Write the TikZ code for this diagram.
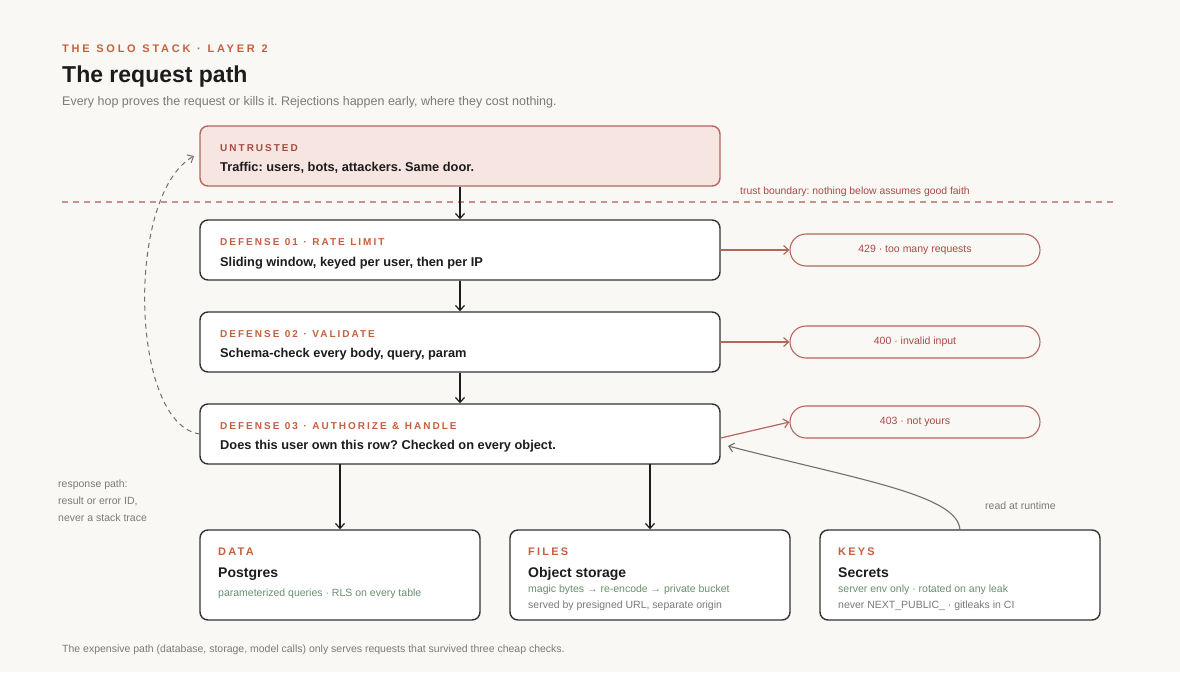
\documentclass[tikz,border=0pt]{standalone}
\usepackage{fontspec}
\setmainfont{Liberation Sans}
\newfontfamily\spc[LetterSpace=20,WordSpace=1.15]{Liberation Sans}
\newfontfamily\spck[LetterSpace=25,WordSpace=1.15]{Liberation Sans}
\usetikzlibrary{arrows.meta}
\frenchspacing
\definecolor{bg}{HTML}{F9F8F5}
\definecolor{accent}{HTML}{C4603F}
\definecolor{redlab}{HTML}{A84A44}
\definecolor{pinkfill}{HTML}{F6E5E1}
\definecolor{pinkdraw}{HTML}{B5665F}
\definecolor{dark}{HTML}{333333}
\definecolor{ink}{HTML}{1C1C1C}
\definecolor{greytxt}{HTML}{7A7A7A}
\definecolor{greenx}{HTML}{6A8F70}
\definecolor{boundary}{HTML}{C9918B}
\definecolor{curvegrey}{HTML}{707070}
\tikzset{
  box/.style={draw=dark, line width=1.4pt, fill=white, rounded corners=8pt, inner sep=0pt},
  pill/.style={draw=pinkdraw, line width=1.1pt, fill=bg, rounded corners=16pt, inner sep=0pt, minimum width=250pt, minimum height=32pt, font=\fontsize{10.5}{12}\selectfont, text=redlab},
  lab/.style={anchor=base west, inner sep=0pt, text=accent, font=\fontsize{10}{12}\selectfont\bfseries\spc},
  main/.style={anchor=base west, inner sep=0pt, text=ink, font=\fontsize{12.8}{15}\selectfont\bfseries},
  sub/.style={anchor=base west, inner sep=0pt, font=\fontsize{10.5}{12}\selectfont},
  flow/.style={draw=ink, line width=1.2pt, -{Straight Barb[length=5pt,width=9pt]}},
  rej/.style={draw=pinkdraw, line width=1.2pt, -{Straight Barb[length=5pt,width=9pt]}},
}
\begin{document}
\begin{tikzpicture}[x=1pt,y=-1pt]
\fill[bg] (0,0) rectangle (1180,672);
\useasboundingbox (0,0) rectangle (1180,672);
% header
\node[anchor=base west, inner sep=0pt, text=accent, font=\fontsize{11}{13}\selectfont\bfseries\spck] (kicker) at (62,52) {THE SOLO STACK · LAYER 2};
\node[anchor=base west, inner sep=0pt, text=ink, font=\fontsize{23}{27}\selectfont\bfseries] (title) at (62,82) {The request path};
\node[anchor=base west, inner sep=0pt, text=greytxt, font=\fontsize{12.5}{15}\selectfont] (subtitle) at (62,105) {Every hop proves the request or kills it. Rejections happen early, where they cost nothing.};
% untrusted
\node[draw=pinkdraw, line width=1.4pt, fill=pinkfill, rounded corners=8pt, inner sep=0pt, minimum width=520pt, minimum height=60pt] (untr) at (460,156) {};
\node[lab, text=redlab] (untrlab) at (220,151) {UNTRUSTED};
\node[main] (untrtxt) at (220,171) {Traffic: users, bots, attackers. Same door.};
% trust boundary
\coordinate (tbL) at (62,202);
\coordinate (tbR) at (1113,202);
\draw[boundary, line width=1.1pt, dash pattern=on 6pt off 5pt] (tbL) -- (tbR);
\node[anchor=base west, inner sep=0pt, text=redlab, font=\fontsize{10.4}{12}\selectfont] (tblab) at (740,194) {trust boundary: nothing below assumes good faith};
% defenses
\node[box, minimum width=520pt, minimum height=60pt] (d1) at (460,250) {};
\node[lab] (d1lab) at (220,245) {DEFENSE 01 · RATE LIMIT};
\node[main] (d1txt) at (220,266) {Sliding window, keyed per user, then per IP};
\node[box, minimum width=520pt, minimum height=60pt] (d2) at (460,342) {};
\node[lab] (d2lab) at (220,337) {DEFENSE 02 · VALIDATE};
\node[main] (d2txt) at (220,357) {Schema-check every body, query, param};
\node[box, minimum width=520pt, minimum height=60pt] (d3) at (460,434) {};
\node[lab] (d3lab) at (220,429) {DEFENSE 03 · AUTHORIZE \& HANDLE};
\node[main] (d3txt) at (220,449) {Does this user own this row? Checked on every object.};
% pills
\node[pill] (p1) at (915,250) {429 · too many requests};
\node[pill] (p2) at (915,342) {400 · invalid input};
\node[pill] (p3) at (915,422) {403 · not yours};
% flow arrows
\draw[flow] (untr.south) -- (d1.north);
\draw[flow] (d1.south) -- (d2.north);
\draw[flow] (d2.south) -- (d3.north);
\draw[rej] (d1.east) -- (p1.west);
\draw[rej] (d2.east) -- (p2.west);
\draw[rej] ([yshift=-4pt]d3.east) -- (p3.west);
% bottom boxes
\node[box, minimum width=280pt, minimum height=90pt] (data) at (340,575) {};
\node[lab, font=\fontsize{11}{13}\selectfont\bfseries\spc] (datalab) at (218,555) {DATA};
\node[main, font=\fontsize{14}{16}\selectfont\bfseries] (datatit) at (218,577) {Postgres};
\node[sub, text=greenx] (datal1) at (218,596) {parameterized queries · RLS on every table};
\node[box, minimum width=280pt, minimum height=90pt] (files) at (650,575) {};
\node[lab, font=\fontsize{11}{13}\selectfont\bfseries\spc] (fileslab) at (528,555) {FILES};
\node[main, font=\fontsize{14}{16}\selectfont\bfseries] (filestit) at (528,577) {Object storage};
\node[sub, text=greenx] (filesl1) at (528,592) {magic bytes → re-encode → private bucket};
\node[sub, text=greytxt] (filesl2) at (528,608) {served by presigned URL, separate origin};
\node[box, minimum width=280pt, minimum height=90pt] (keys) at (960,575) {};
\node[lab, font=\fontsize{11}{13}\selectfont\bfseries\spc] (keyslab) at (838,555) {KEYS};
\node[main, font=\fontsize{14}{16}\selectfont\bfseries] (keystit) at (838,577) {Secrets};
\node[sub, text=greenx] (keysl1) at (838,592) {server env only · rotated on any leak};
\node[sub, text=greytxt] (keysl2) at (838,608) {never NEXT\_PUBLIC\_ · gitleaks in CI};
% down arrows
\coordinate (d3a) at (340,464);
\coordinate (d3b) at (650,464);
\draw[flow] (d3a) -- (data.north -| d3a);
\draw[flow] (d3b) -- (files.north -| d3b);
% read at runtime
\coordinate (keystop) at (960,530);
\coordinate (d3in) at (728,446);
\draw[curvegrey, line width=1.1pt, -{Straight Barb[length=5pt,width=9pt]}] (keystop) .. controls (958,495) and (860,480) .. (d3in);
\node[anchor=base west, inner sep=0pt, text=greytxt, font=\fontsize{10.5}{12}\selectfont] (rtlab) at (985,509) {read at runtime};
% response path
\coordinate (d3left) at (200,434);
\coordinate (untrin) at (194,156);
\draw[curvegrey, line width=1pt, dash pattern=on 5pt off 4pt, -{Straight Barb[length=5pt,width=9pt]}] (d3left) .. controls (130,425) and (125,195) .. (untrin);
\node[anchor=base west, inner sep=0pt, text=greytxt, font=\fontsize{10.5}{12}\selectfont] (resp) at (58,487) {response path:};
\node[anchor=base west, inner sep=0pt, text=greytxt, font=\fontsize{10.5}{12}\selectfont] (resp2) at (58,504) {result or error ID,};
\node[anchor=base west, inner sep=0pt, text=greytxt, font=\fontsize{10.5}{12}\selectfont] (resp3) at (58,521) {never a stack trace};
% footer
\node[anchor=base west, inner sep=0pt, text=greytxt, font=\fontsize{10.5}{12}\selectfont] (footer) at (62,652) {The expensive path (database, storage, model calls) only serves requests that survived three cheap checks.};
\end{tikzpicture}
\end{document}
